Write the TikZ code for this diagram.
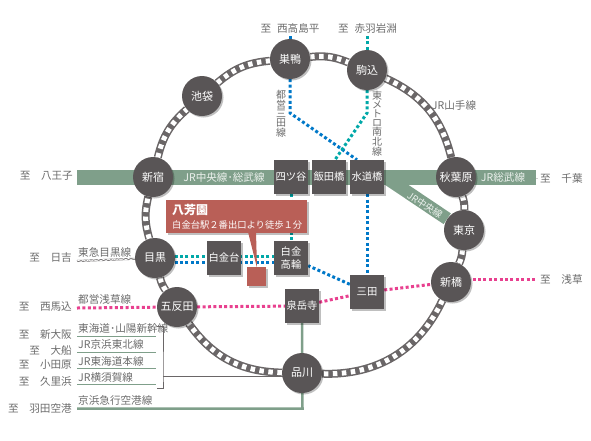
\documentclass[tikz,border=0pt]{standalone}
\usepackage{fontspec}
\usepackage{xcolor}
\setmainfont{Noto Sans CJK JP}
\usetikzlibrary{backgrounds,shadows,decorations.pathmorphing}
\definecolor{MapDark}{HTML}{595556}
\definecolor{MapGreen}{HTML}{7F9F8A}
\definecolor{MapRed}{HTML}{B95F57}
\definecolor{MapPink}{HTML}{E8408F}
\definecolor{MapBlue}{HTML}{0078C8}
\definecolor{MapTeal}{HTML}{00A8A8}
\definecolor{MapText}{HTML}{6B6B6B}

\begin{document}
\begin{tikzpicture}[
    x=1pt,y=-1pt,
    font=\fontsize{10.6}{10.6}\selectfont,
    shade/.style={drop shadow={shadow xshift=1.5pt,shadow yshift=-1.5pt,opacity=.25,fill=black}},
    station/.style={circle,fill=MapDark,text=white,minimum size=40pt,inner sep=0pt,shade,
      font=\fontsize{11}{11}\selectfont},
    subway/.style={rectangle,fill=MapDark,text=white,minimum size=34pt,inner sep=0pt,shade,align=center,
      font=\fontsize{10.3}{12.5}\selectfont},
    label/.style={text=MapText,inner sep=0pt},
    terminal/.style={label,anchor=east},
    linename/.style={label,anchor=west},
    tategaki/.style={label,align=center,font=\fontsize{10}{9}\selectfont},
    band/.style={draw=MapGreen,line width=15pt},
    bandtext/.style={text=white!85!MapGreen,inner sep=0pt},
    yamanote/.style={draw=MapDark!90!white,line width=8pt,
      preaction={draw=black!25,transform canvas={xshift=1.2pt,yshift=-1.2pt}},
      postaction={draw=white,line width=5pt,dash pattern=on 4.5pt off 4.5pt}},
    mita/.style={draw=MapBlue,line width=3pt,dash pattern=on 3pt off 2.4pt},
    namboku/.style={draw=MapTeal,line width=3pt,dash pattern=on 3pt off 2.4pt},
    asakusa/.style={draw=MapPink,line width=3pt,dash pattern=on 3pt off 2.4pt},
    jrline/.style={draw=MapGreen,line width=1pt},
    keikyu/.style={draw=MapGreen,line width=2.5pt},
    bracket/.style={draw=MapDark!90!white,line width=.9pt}
  ]
    \useasboundingbox (0,0) rectangle (591,440);
    % yamanote stations
    \node[station] (shinjuku) at (153,177) {新宿};
    \node[station] (ikebukuro) at (202,96) {池袋};
    \node[station] (sugamo) at (290,59) {巣鴨};
    \node[station] (komagome) at (367,70) {駒込};
    \node[station] (akihabara) at (456,177) {秋葉原};
    \node[station] (tokyo) at (464,230) {東京};
    \node[station] (shimbashi) at (451,282) {新橋};
    \node[station] (shinagawa) at (302,373) {品川};
    \node[station] (gotanda) at (177,307) {五反田};
    \node[station] (meguro) at (155,258) {目黒};
    % subway stations
    \node[subway] (yotsuya) at (291,177) {四ツ谷};
    \node[subway] (iidabashi) at (329,177) {飯田橋};
    \node[subway] (suidobashi) at (367,177) {水道橋};
    \node[subway] (shirokanedai) at (224,258) {白金台};
    \node[subway] (takanawa) at (291,258) {白金\\高輪};
    \node[subway] (sengakuji) at (302,306) {泉岳寺};
    \node[subway] (mita) at (367,292) {三田};
    % free ends
    \coordinate (hachioji) at (77,177);
    \coordinate (chiba) at (536,177);
    \coordinate (branch) at (385,177);
    \coordinate (hiyoshi) at (77,261);
    \coordinate (nishimagome) at (77,308);
    \coordinate (asakusa) at (535,279);
    \coordinate (takashimadaira) at (290,35);
    \coordinate (iwabuchi) at (367,35);
    \coordinate (mitabend) at (290,113);
    \coordinate (nambokubend) at (367,113);
    \coordinate (haneda) at (77,408.5);
    \coordinate (keikyubend) at (302.5,408.5);
    \begin{scope}[on background layer]
      \draw[band,preaction={draw=black!20,transform canvas={xshift=1.5pt,yshift=-1.5pt}}] (hachioji) -- (chiba);
      \draw[band,line width=13pt] (branch) -- (tokyo);
      \draw[keikyu] (haneda) -- (keikyubend) -- (sengakuji);
      \draw[mita] (sugamo) -- (takashimadaira);
      \draw[mita] (sugamo) -- (mitabend) -- ([xshift=-10pt]suidobashi.north);
      \draw[mita] (suidobashi) -- (mita);
      \draw[mita] (mita) -- (takanawa);
      \draw[mita] ([yshift=-4pt]takanawa.center) -- ([yshift=-4pt]meguro.center);
      \draw[namboku] (komagome) -- (iwabuchi);
      \draw[namboku] (komagome) -- (nambokubend) -- ([xshift=6pt]iidabashi.north);
      \draw[namboku] (yotsuya) -- (takanawa);
      \draw[namboku] ([yshift=2pt]takanawa.center) -- ([yshift=2pt]meguro.center);
      \draw[asakusa] (nishimagome) -- (gotanda);
      \draw[asakusa] (gotanda) -- (sengakuji);
      \draw[asakusa] (sengakuji) -- (mita);
      \draw[asakusa] (mita) -- (shimbashi);
      \draw[asakusa] ([yshift=3pt]shimbashi.center) -- (asakusa);
      \draw[draw=MapDark!80!white,line width=2pt] (hiyoshi) -- (meguro);
      \draw[draw=white,line width=.7pt,decorate,decoration={snake,amplitude=.6pt,segment length=5pt}] (hiyoshi) -- (meguro);
      \draw[yamanote] (shinjuku) to[bend left=17.5] (ikebukuro);
      \draw[yamanote] (ikebukuro) to[bend left=17.7] (sugamo);
      \draw[yamanote] (sugamo) to[bend left=14] (komagome);
      \draw[yamanote] (komagome) to[bend left=26] (akihabara);
      \draw[yamanote] (akihabara) to[bend left=9.7] (tokyo);
      \draw[yamanote] (tokyo) to[bend left=9.6] (shimbashi);
      \draw[yamanote] (shimbashi) to[bend left=33.4] (shinagawa);
      \draw[yamanote] (shinagawa) to[bend left=26.7] (gotanda);
      \draw[yamanote] (gotanda) to[bend left=10] (meguro);
      \draw[yamanote] (meguro) to[bend left=15] (shinjuku);
    \end{scope}
    % line names in the map
    \node[bandtext] (chuosobu) at (224,177) {JR中央線･総武線};
    \node[bandtext] (sobu) at (503,177) {JR総武線};
    \node[bandtext,rotate=-33,font=\fontsize{9.5}{9.5}\selectfont] (chuo) at (425,205) {JR中央線};
    \node[label] (yamanotename) at (454,105) {JR山手線};
    \node[tategaki] (mitaname) at (281,113.5) {都\\営\\三\\田\\線};
    \node[tategaki] (nambokuname) at (377,124) {東\\メ\\ト\\ロ\\南\\北\\線};
    % terminals
    \node[terminal] (tohachioji) at (73,176) {至　八王子};
    \node[label,anchor=west] (tochiba) at (540,178) {至　千葉};
    \node[label,anchor=west] (toasakusa) at (540,279) {至　浅草};
    \node[label,anchor=south] (totakashimadaira) at (290,34) {至\hspace{6pt}西高島平};
    \node[label,anchor=south] (toiwabuchi) at (367.5,34) {至\hspace{6pt}赤羽岩淵};
    \node[terminal] (tohiyoshi) at (72,258) {至　日吉};
    \node[terminal] (tonishimagome) at (72,307) {至　西馬込};
    \node[terminal] (toshinosaka) at (72,334) {至　新大阪};
    \node[terminal] (toofuna) at (72,350) {至　大船};
    \node[terminal] (toodawara) at (72,365) {至　小田原};
    \node[terminal] (tokurihama) at (72,381) {至　久里浜};
    \node[terminal] (tohaneda) at (72,408) {至　羽田空港};
    % lines on the left
    \node[linename] (meguroline) at (78,252) {東急目黒線};
    \node[linename] (asakusaline) at (78,299) {都営浅草線};
    \node[linename] (shinkansen) at (78,328) {東海道･山陽新幹線};
    \node[linename] (keihin) at (78,344.5) {JR京浜東北線};
    \node[linename] (tokaido) at (78,361) {JR東海道本線};
    \node[linename] (yokosuka) at (78,377) {JR横須賀線};
    \node[linename] (keikyuline) at (78,400) {京浜急行空港線};
    \coordinate (rowa) at (77,336);
    \coordinate (rowaend) at (156,336);
    \coordinate (rowb) at (77,352);
    \coordinate (rowbend) at (156,352);
    \coordinate (rowc) at (77,368.5);
    \coordinate (rowcend) at (156,368.5);
    \coordinate (rowd) at (77,384.5);
    \coordinate (rowdend) at (156,384.5);
    \draw[jrline] (rowa) -- (rowaend);
    \draw[jrline] (rowb) -- (rowbend);
    \draw[jrline] (rowc) -- (rowcend);
    \draw[jrline] (rowd) -- (rowdend);
    \coordinate (brackettop) at (157,326);
    \coordinate (bracketbottom) at (157,388);
    \coordinate (bracketmid) at (163,376);
    \draw[bracket] (brackettop) -| (bracketmid) |- (bracketbottom);
    \begin{scope}[on background layer]
      \draw[bracket] (bracketmid) -- (bracketmid -| shinagawa);
    \end{scope}
    % hoppoen
    \node[fill=MapRed,text=white,anchor=north west,minimum width=141pt,minimum height=33pt,inner sep=0pt,shade,
      align=left,text width=129pt,font=\fontsize{9.3}{14}\selectfont] (hoppoen) at (166,200)
      {{\fontsize{12}{14}\selectfont\bfseries 八芳園}\\白金台駅２番出口より徒歩１分};
    \node[fill=MapRed,minimum size=19pt,inner sep=0pt,shade] (hoppoenmark) at (256.5,276.5) {};
    \coordinate (pointa) at (248,232);
    \coordinate (pointb) at (256,232);
    \coordinate (pointc) at (257,268);
    \fill[MapRed] (pointa) -- (pointb) -- (pointc) -- cycle;
  \end{tikzpicture}
\end{document}
